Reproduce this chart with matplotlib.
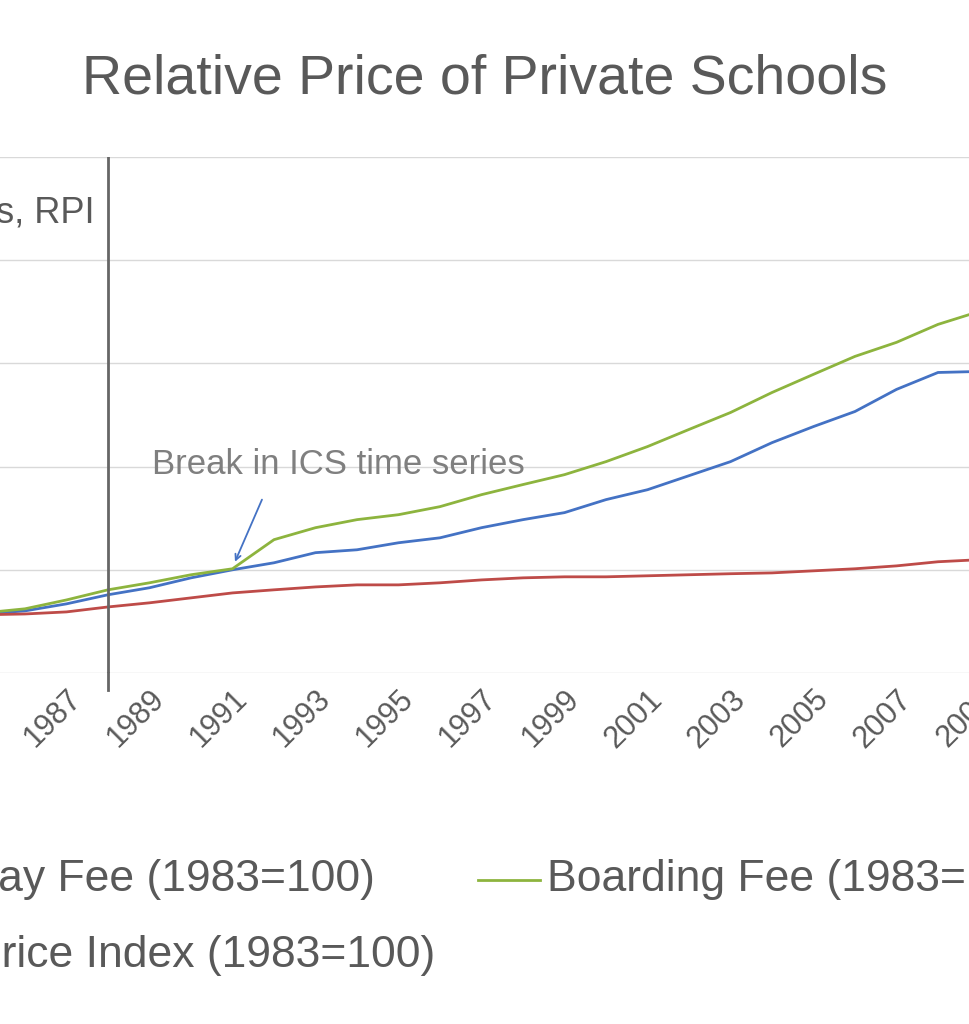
import matplotlib.pyplot as plt
from matplotlib.lines import Line2D

plt.rcParams['font.family'] = ['Liberation Sans', 'DejaVu Sans']

years = list(range(1985, 2011))
# index values
day_fee = [128.6, 130.1, 133.5, 137.9, 141.3, 146.1, 150.0, 153.4, 158.3, 159.7, 163.1, 165.5,
           170.4, 174.3, 177.7, 184.0, 188.8, 195.6, 202.4, 211.6, 219.4, 226.7, 237.4, 245.6,
           246.1, 246.6]
boarding_fee = [129.1, 131.1, 135.4, 140.3, 143.7, 147.6, 150.5, 164.6, 170.4, 174.3, 176.7,
                180.6, 186.4, 191.3, 196.1, 202.4, 209.7, 218.0, 226.2, 235.9, 244.7, 253.4,
                260.2, 268.9, 275.2, 281.0]
rpi = [128.2, 128.6, 129.6, 132.0, 134.0, 136.4, 138.8, 140.3, 141.7, 142.7, 142.7, 143.7,
       145.1, 146.1, 146.6, 146.6, 147.1, 147.6, 148.1, 148.5, 149.5, 150.5, 151.9, 153.9,
       154.9, 156.3]
grid_vals = [100, 150, 200, 250, 300, 350]
tick_years = list(range(1985, 2012, 2))

W, H = 970, 1024
px_per_year = 41.5
x0 = 108 - 5 * px_per_year
x1 = 108 + 25 * px_per_year
fig = plt.figure(figsize=(9.7, 10.24), dpi=100)
ax = fig.add_axes([x0 / W, 1 - 673 / H, (x1 - x0) / W, (673 - 157) / H])
ax.set_xlim(1983, 2013)
ax.set_ylim(100, 350)

grey = '#595959'
ax.plot(years, day_fee, color='#4472C4', lw=2)
ax.plot(years, boarding_fee, color='#8DB43E', lw=2)
ax.plot(years, rpi, color='#BE4B48', lw=2)
ax.axvline(1988, color='#666666', lw=2)
ax.plot([1988, 1988], [92, 100], color='#666666', lw=2, clip_on=False)

ax.set_yticks(grid_vals)
ax.set_yticklabels([])
ax.tick_params(axis='y', length=0)
ax.grid(axis='y', color='#d9d9d9', lw=1)
ax.set_xticks(tick_years)
ax.set_xticklabels([str(y) for y in tick_years], rotation=45, ha='right',
                   rotation_mode='anchor', fontsize=22, color=grey)
ax.tick_params(axis='x', length=0, pad=8)
for s in ax.spines.values():
    s.set_visible(False)

ax.text(1989.06, 201, 'Break in ICS time series', fontsize=25, color='#7f7f7f',
        ha='left', va='center')
ax.annotate('', xy=(1991.06, 153.9), xytext=(1991.71, 184),
            arrowprops=dict(arrowstyle='->', color='#4472C4', lw=1.3, shrinkA=0, shrinkB=0))

fig.text(0.5, 1 - 80 / H, 'Relative Price of Private Schools', ha='center', va='center',
         fontsize=40, color=grey)
fig.text(95 / W, 1 - 213 / H, 'Fees, RPI', ha='right', va='center', fontsize=26, color=grey)

# legend
fig.add_artist(Line2D([478 / W, 540 / W], [1 - 880 / H] * 2, color='#8DB43E', lw=2))
fig.text(375 / W, 1 - 880 / H, 'Day Fee (1983=100)', ha='right', va='center', fontsize=32, color=grey)
fig.text(547 / W, 1 - 880 / H, 'Boarding Fee (1983=100)', ha='left', va='center', fontsize=32, color=grey)
fig.text(435 / W, 1 - 955 / H, 'Retail Price Index (1983=100)', ha='right', va='center',
         fontsize=32, color=grey)

fig.savefig('out.png', dpi=100)
